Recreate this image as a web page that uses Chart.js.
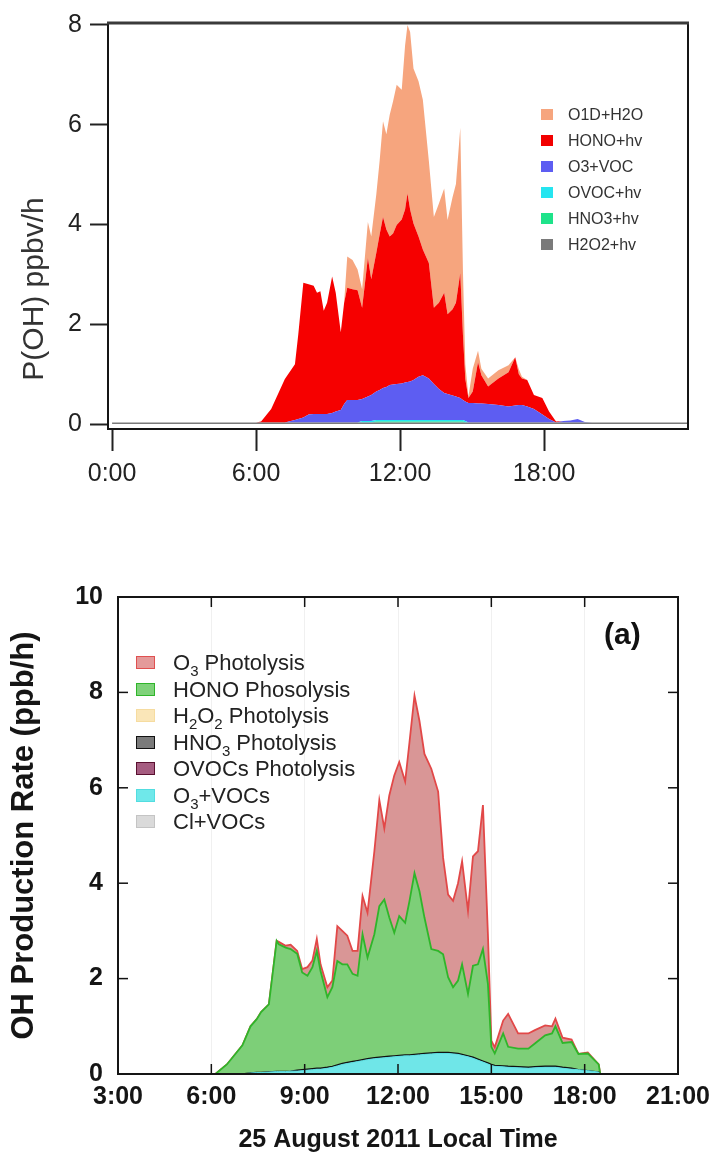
<!DOCTYPE html>
<html>
<head>
<meta charset="utf-8">
<script src="https://cdn.jsdelivr.net/npm/chart.js@4.4.1/dist/chart.umd.min.js"></script>
<style>
  html,body{margin:0;padding:0;background:#fff;}
  body{width:720px;height:1171px;position:relative;overflow:hidden;font-family:"Liberation Sans",Arial,sans-serif;}
  canvas{position:absolute;left:0;}
  #c1{top:0;}
  #c2{top:560px;}
  .ov{position:absolute;white-space:nowrap;}
  #ytitle1{left:-87px;top:271px;width:240px;height:36px;line-height:36px;text-align:center;font-size:30px;color:#333;transform:rotate(-90deg);}
  .lg1{position:absolute;left:541px;font-size:16px;color:#333;height:20px;line-height:20px;}
  .lg1 i{display:inline-block;width:12px;height:11px;vertical-align:middle;margin-right:15px;margin-top:-2px;}
  .lg2{position:absolute;left:136px;font-size:22px;color:#222;height:26px;line-height:26px;}
  .lg2 i{display:inline-block;width:17px;height:11px;border:1.5px solid;vertical-align:middle;margin-right:18px;margin-top:-3px;}
  .lg2 sub{font-size:15px;vertical-align:-6px;line-height:0;}
  #tag{left:604px;top:617px;font-size:30px;font-weight:bold;color:#111;}
</style>
</head>
<body>
<canvas id="c1" width="720" height="520"></canvas>
<canvas id="c2" width="720" height="611"></canvas>

<div id="ytitle1" class="ov">P(OH) ppbv/h</div>

<div class="lg1" style="top:105px"><i style="background:#f6a57e"></i>O1D+H2O</div>
<div class="lg1" style="top:131px"><i style="background:#f20000"></i>HONO+hv</div>
<div class="lg1" style="top:157px"><i style="background:#5d5df2"></i>O3+VOC</div>
<div class="lg1" style="top:183px"><i style="background:#25e5f0"></i>OVOC+hv</div>
<div class="lg1" style="top:209px"><i style="background:#1ee38a"></i>HNO3+hv</div>
<div class="lg1" style="top:235px"><i style="background:#7a7a7a"></i>H2O2+hv</div>

<div class="lg2" style="top:650px"><i style="background:#e49a9a;border-color:#e05050"></i>O<sub>3</sub> Photolysis</div>
<div class="lg2" style="top:677px"><i style="background:#7fd27a;border-color:#2fb52a"></i>HONO Phosolysis</div>
<div class="lg2" style="top:703px"><i style="background:#fae6b8;border-color:#f6dca0"></i>H<sub>2</sub>O<sub>2</sub> Photolysis</div>
<div class="lg2" style="top:730px"><i style="background:#7a7a7a;border-color:#111"></i>HNO<sub>3</sub> Photolysis</div>
<div class="lg2" style="top:756px"><i style="background:#a55c80;border-color:#5a1030"></i>OVOCs Photolysis</div>
<div class="lg2" style="top:783px"><i style="background:#6fe8ea;border-color:#52dde0"></i>O<sub>3</sub>+VOCs</div>
<div class="lg2" style="top:809px"><i style="background:#dadada;border-color:#c4c4c4"></i>Cl+VOCs</div>

<div id="tag" class="ov">(a)</div>

<script>
// ================= TOP CHART DATA (hours, ppbv/h) =================
const topTimes = [0, 6.0, 6.21, 6.63, 7.2, 7.62, 7.76, 7.97, 8.19, 8.40,
  8.54, 8.68, 8.82, 8.96, 9.17, 9.32, 9.53, 9.67, 9.80, 10.02,
  10.23, 10.42, 10.66, 10.80, 11.01, 11.15, 11.29, 11.43, 11.57, 11.71,
  11.86, 12.07, 12.21, 12.31, 12.42, 12.56, 12.77, 12.95, 13.20, 13.41,
  13.62, 13.84, 13.98, 14.19, 14.33, 14.51, 14.62, 14.72, 14.85, 15.03,
  15.25, 15.39, 15.67, 16.10, 16.52, 16.80, 16.95, 17.08, 17.30, 17.58,
  17.93, 18.21, 18.50, 18.80, 19.10, 19.40, 19.70, 20.00, 24];

const topH2O2 = [0.03,0.03,0.03,0.03,0.03,0.03,0.03,0.03,0.03,0.03,
  0.03,0.03,0.03,0.03,0.03,0.03,0.03,0.03,0.03,0.03,
  0.03,0.03,0.03,0.03,0.03,0.03,0.03,0.03,0.03,0.03,
  0.03,0.03,0.03,0.03,0.03,0.03,0.03,0.03,0.03,0.03,
  0.03,0.03,0.03,0.03,0.03,0.03,0.03,0.03,0.03,0.03,
  0.03,0.03,0.03,0.03,0.03,0.03,0.03,0.03,0.03,0.03,
  0.03,0.03,0.03,0.03,0.03,0.03,0.03,0.03,0.03];

const topHNO3 = [0,0,0,0,0,0,0,0,0,0,
  0,0,0,0,0,0,0,0,0,0,
  0,0,0,0,0.02,0.02,0.02,0.02,0.02,0.02,
  0.02,0.02,0.02,0.02,0.02,0.02,0.02,0.02,0.02,0.02,
  0.02,0.02,0.02,0.02,0.02,0.02,0.02,0,0,0,
  0,0,0,0,0,0,0,0,0,0,
  0,0,0,0,0,0,0,0,0];

const topOVOC = [0,0,0,0,0,0,0,0,0,0,
  0,0,0,0,0,0,0,0,0,0,
  0,0.03,0.03,0.03,0.03,0.03,0.03,0.03,0.03,0.03,
  0.03,0.03,0.03,0.03,0.03,0.03,0.03,0.03,0.03,0.03,
  0.03,0.03,0.03,0.03,0.03,0.03,0.03,0.03,0,0,
  0,0,0,0,0,0,0,0,0,0,
  0,0,0,0,0,0,0,0,0];

const topO3VOC = [0,0,0,0,0,0.05,0.07,0.10,0.16,0.17,
  0.17,0.17,0.17,0.17,0.19,0.22,0.25,0.37,0.45,0.45,
  0.45,0.44,0.49,0.52,0.57,0.60,0.64,0.66,0.70,0.71,
  0.72,0.73,0.75,0.76,0.77,0.80,0.87,0.90,0.83,0.72,
  0.62,0.54,0.52,0.49,0.47,0.44,0.40,0.39,0.39,0.39,
  0.38,0.38,0.37,0.35,0.32,0.34,0.35,0.35,0.32,0.27,
  0.16,0.07,0,0.03,0.04,0.07,0.01,0,0];

const topHONO = [0,0,0.02,0.27,0.87,1.12,1.70,2.70,2.61,2.57,
  2.43,2.46,2.07,2.23,2.74,2.38,1.56,2.03,2.25,2.22,
  2.20,1.83,2.78,2.32,2.78,3.12,3.43,3.16,2.98,3.03,
  3.19,3.29,3.47,3.78,3.45,3.14,2.81,2.52,2.32,1.53,
  1.73,2.01,1.60,1.73,1.88,2.51,1.32,0.45,0.10,0.23,
  0.83,0.57,0.35,0.53,0.69,0.97,0.62,0.53,0.53,0.28,
  0.33,0.15,0.02,0,0,0,0,0,0];

const topO1D = [0,0,0,0,0,0,0,0,0,0,
  0,0,0,0,0,0,0,0,0.63,0.59,
  0.42,0.37,0.72,0.86,1.17,1.48,1.92,1.91,2.44,2.65,
  2.81,2.60,3.29,3.38,3.56,3.11,3.11,3.00,2.05,1.82,
  1.99,2.09,1.89,2.25,2.38,2.91,1.30,0.30,0.03,0.46,
  0.23,0.13,0.16,0.17,0.14,0,0.10,0.04,0,0,
  0,0,0,0,0,0,0,0,0];

const topXTicks = [0, 6, 12, 18];
const topYTicks = [0, 2, 4, 6, 8];

// ================= BOTTOM CHART DATA (hours, ppb/h) =================
const botTimes = [6.13, 6.5, 7.0, 7.26, 7.46, 7.6, 7.85, 8.1, 8.17, 8.39,
  8.55, 8.76, 8.92, 9.09, 9.25, 9.39, 9.51, 9.73, 9.89, 10.05,
  10.21, 10.37, 10.54, 10.70, 10.86, 11.02, 11.24, 11.40, 11.56, 11.72,
  11.88, 12.04, 12.23, 12.37, 12.53, 12.69, 12.85, 13.07, 13.29, 13.45,
  13.61, 13.77, 13.93, 14.06, 14.25, 14.41, 14.57, 14.73, 14.89, 15.00,
  15.11, 15.38, 15.54, 15.86, 16.19, 16.40, 16.73, 16.95, 17.06, 17.29,
  17.58, 17.80, 18.10, 18.45, 18.50];

const botO3VOCs = [0,0,0,0.02,0.03,0.03,0.04,0.05,0.05,0.05,
  0.06,0.06,0.07,0.08,0.09,0.10,0.10,0.12,0.14,0.17,
  0.20,0.22,0.24,0.26,0.28,0.30,0.32,0.33,0.34,0.35,
  0.36,0.37,0.38,0.38,0.39,0.40,0.41,0.42,0.43,0.43,
  0.43,0.42,0.41,0.39,0.36,0.33,0.29,0.25,0.21,0.18,
  0.16,0.15,0.14,0.13,0.12,0.13,0.14,0.14,0.14,0.12,
  0.10,0.09,0.07,0.04,0];

const botHNO3 = [0,0,0,0,0,0,0,0,0,0,
  0,0.02,0.02,0.02,0.02,0.02,0.02,0.02,0.02,0.02,
  0.02,0.02,0.02,0.02,0.02,0.02,0.02,0.02,0.02,0.02,
  0.02,0.02,0.02,0.02,0.02,0.02,0.02,0.02,0.02,0.02,
  0.02,0.02,0.02,0.02,0.02,0.02,0.02,0.02,0.02,0.02,
  0.02,0.02,0.02,0.02,0.02,0.02,0.02,0.02,0.02,0.02,
  0.02,0,0,0,0];

const botHONO = [0,0.20,0.60,0.98,1.12,1.27,1.42,2.74,2.67,2.60,
  2.56,2.44,2.04,1.96,2.13,2.46,2.04,1.47,1.66,2.18,
  2.08,2.06,1.84,1.78,2.63,2.12,2.59,3.17,3.30,2.91,
  2.58,2.92,2.77,3.23,3.80,3.41,2.85,2.18,2.13,2.06,
  1.58,1.38,1.53,1.89,1.30,1.92,1.99,2.35,1.66,0.37,
  0.25,0.68,0.41,0.38,0.39,0.49,0.65,0.69,0.84,0.51,
  0.55,0.33,0.36,0.16,0];

const botO3Phot = [0,0,0,0,0,0,0,0,0.05,0.04,
  0.09,0.06,0.07,0.18,0.14,0.25,0.14,0.21,0.14,0.73,
  0.70,0.60,0.48,0.52,0.80,0.94,1.74,2.22,1.49,2.56,
  3.30,3.23,2.96,3.33,3.72,3.57,3.43,3.78,3.34,2.02,
  1.73,1.81,2.04,2.16,1.74,2.29,2.37,3.02,1.04,0.13,
  0.13,0.27,0.69,0.32,0.32,0.28,0.21,0.15,0.16,0.11,
  0.05,0,0.02,0,0];

const botXTicks = [3, 6, 9, 12, 15, 18, 21];
const botYTicks = [0, 2, 4, 6, 8, 10];

// ================= helpers =================
const pts = (times, vals) => times.map((t, i) => ({x: t, y: vals[i]}));
const hourLabel = v => Math.round(v) + ':00';

const framePlugin = {
  id: 'frame',
  afterDraw(chart, args, o) {
    const {ctx, chartArea: a} = chart;
    ctx.save();
    ctx.strokeStyle = o.color;
    ctx.lineWidth = o.width;
    ctx.strokeRect(a.left, a.top, a.right - a.left, a.bottom - a.top);
    if (o.topWidth) {
      ctx.lineWidth = o.topWidth;
      ctx.strokeStyle = o.topColor || o.color;
      ctx.beginPath(); ctx.moveTo(a.left - 1, a.top); ctx.lineTo(a.right + 1, a.top); ctx.stroke();
    }
    ctx.restore();
  }
};

const innerTicks = {
  id: 'innerTicks',
  afterDraw(chart, args, o) {
    if (!o.len) return;
    const {ctx, chartArea: a, scales: {x, y}} = chart;
    ctx.save();
    ctx.strokeStyle = '#111';
    ctx.lineWidth = 1.5;
    const seg = (x1, y1, x2, y2) => { ctx.beginPath(); ctx.moveTo(x1, y1); ctx.lineTo(x2, y2); ctx.stroke(); };
    x.ticks.forEach(t => {
      const px = x.getPixelForValue(t.value);
      if (px <= a.left + 2 || px >= a.right - 2) return;
      seg(px, a.bottom, px, a.bottom - o.len);
      seg(px, a.top, px, a.top + o.len);
    });
    y.ticks.forEach(t => {
      const py = y.getPixelForValue(t.value);
      if (py >= a.bottom - 2 || py <= a.top + 2) return;
      seg(a.left, py, a.left + o.len, py);
      seg(a.right, py, a.right - o.len, py);
    });
    ctx.restore();
  }
};

Chart.defaults.font.family = '"Liberation Sans", Arial, sans-serif';

// ================= TOP CHART =================
const mk = (label, vals, color, fill) => ({
  label, data: pts(topTimes, vals), backgroundColor: color, borderColor: color,
  borderWidth: 0, pointRadius: 0, tension: 0, fill
});

new Chart(document.getElementById('c1'), {
  type: 'line',
  data: {
    datasets: [
      mk('H2O2+hv', topH2O2, '#7a7a7a', 'origin'),
      mk('HNO3+hv', topHNO3, '#1ee38a', '-1'),
      mk('OVOC+hv', topOVOC, '#25e5f0', '-1'),
      mk('O3+VOC', topO3VOC, '#5d5df2', '-1'),
      mk('HONO+hv', topHONO, '#f60000', '-1'),
      mk('O1D+H2O', topO1D, '#f6a57e', '-1')
    ]
  },
  options: {
    responsive: false, animation: false, devicePixelRatio: 1,
    layout: {padding: {left: 0, top: 18, right: 32, bottom: 0}},
    plugins: {legend: {display: false}, tooltip: {enabled: false},
      frame: {color: '#151515', width: 2, topWidth: 3, topColor: '#3a3a3a'}},
    scales: {
      x: {
        type: 'linear', min: -0.17, max: 24,
        afterBuildTicks: s => { s.ticks = topXTicks.map(v => ({value: v})); },
        afterFit: s => { s.height = 91; },
        border: {display: false},
        grid: {drawOnChartArea: false, drawTicks: true, tickLength: 22, tickWidth: 2, tickColor: '#222'},
        ticks: {callback: hourLabel, font: {size: 25}, color: '#222', padding: 8, maxRotation: 0}
      },
      y: {
        type: 'linear', stacked: true, min: -0.1, max: 8.04,
        afterBuildTicks: s => { s.ticks = topYTicks.map(v => ({value: v})); },
        afterFit: s => { s.width = 108; },
        border: {display: false},
        grid: {drawOnChartArea: false, drawTicks: true, tickLength: 18, tickWidth: 2, tickColor: '#222'},
        ticks: {font: {size: 25}, color: '#222', padding: 8}
      }
    }
  },
  plugins: [framePlugin]
});

// ================= BOTTOM CHART =================
const mk2 = (label, vals, fillColor, lineColor, lw, fill) => ({
  label, data: pts(botTimes, vals), backgroundColor: fillColor, borderColor: lineColor,
  borderWidth: lw, pointRadius: 0, tension: 0, fill
});

new Chart(document.getElementById('c2'), {
  type: 'line',
  data: {
    datasets: [
      mk2('O3+VOCs', botO3VOCs, '#6fe6e8', '#5adfe2', 1, 'origin'),
      mk2('HNO3 Photolysis', botHNO3, '#555555', '#111111', 1.5, '-1'),
      mk2('HONO Phosolysis', botHONO, '#7dcf78', '#2fb52a', 1.8, '-1'),
      mk2('O3 Photolysis', botO3Phot, '#d99696', '#e24848', 1.8, '-1')
    ]
  },
  options: {
    responsive: false, animation: false, devicePixelRatio: 1,
    layout: {padding: {left: 0, top: 37, right: 42, bottom: 0}},
    plugins: {legend: {display: false}, tooltip: {enabled: false},
      frame: {color: '#151515', width: 2},
      innerTicks: {len: 10}},
    scales: {
      x: {
        type: 'linear', min: 3, max: 21,
        afterBuildTicks: s => { s.ticks = botXTicks.map(v => ({value: v})); },
        afterFit: s => { s.height = 97; },
        border: {display: false},
        grid: {drawOnChartArea: true, drawTicks: false, color: 'rgba(0,0,0,0.06)', lineWidth: 1},
        ticks: {callback: hourLabel, font: {size: 25, weight: 'bold'}, color: '#151515', padding: 8, maxRotation: 0},
        title: {display: true, text: '25 August 2011 Local Time', font: {size: 25, weight: 'bold'}, color: '#151515',
          padding: {top: 0, bottom: 16}}
      },
      y: {
        type: 'linear', stacked: true, min: 0, max: 10,
        afterBuildTicks: s => { s.ticks = botYTicks.map(v => ({value: v})); },
        afterFit: s => { s.width = 118; },
        border: {display: false},
        grid: {drawOnChartArea: false, drawTicks: false},
        ticks: {font: {size: 25, weight: 'bold'}, color: '#151515', padding: 15},
        title: {display: true, text: 'OH Production Rate (ppb/h)', font: {size: 31, weight: 'bold'}, color: '#151515',
          padding: {top: 6, bottom: 0}}
      }
    }
  },
  plugins: [framePlugin, innerTicks]
});
</script>
</body>
</html>
